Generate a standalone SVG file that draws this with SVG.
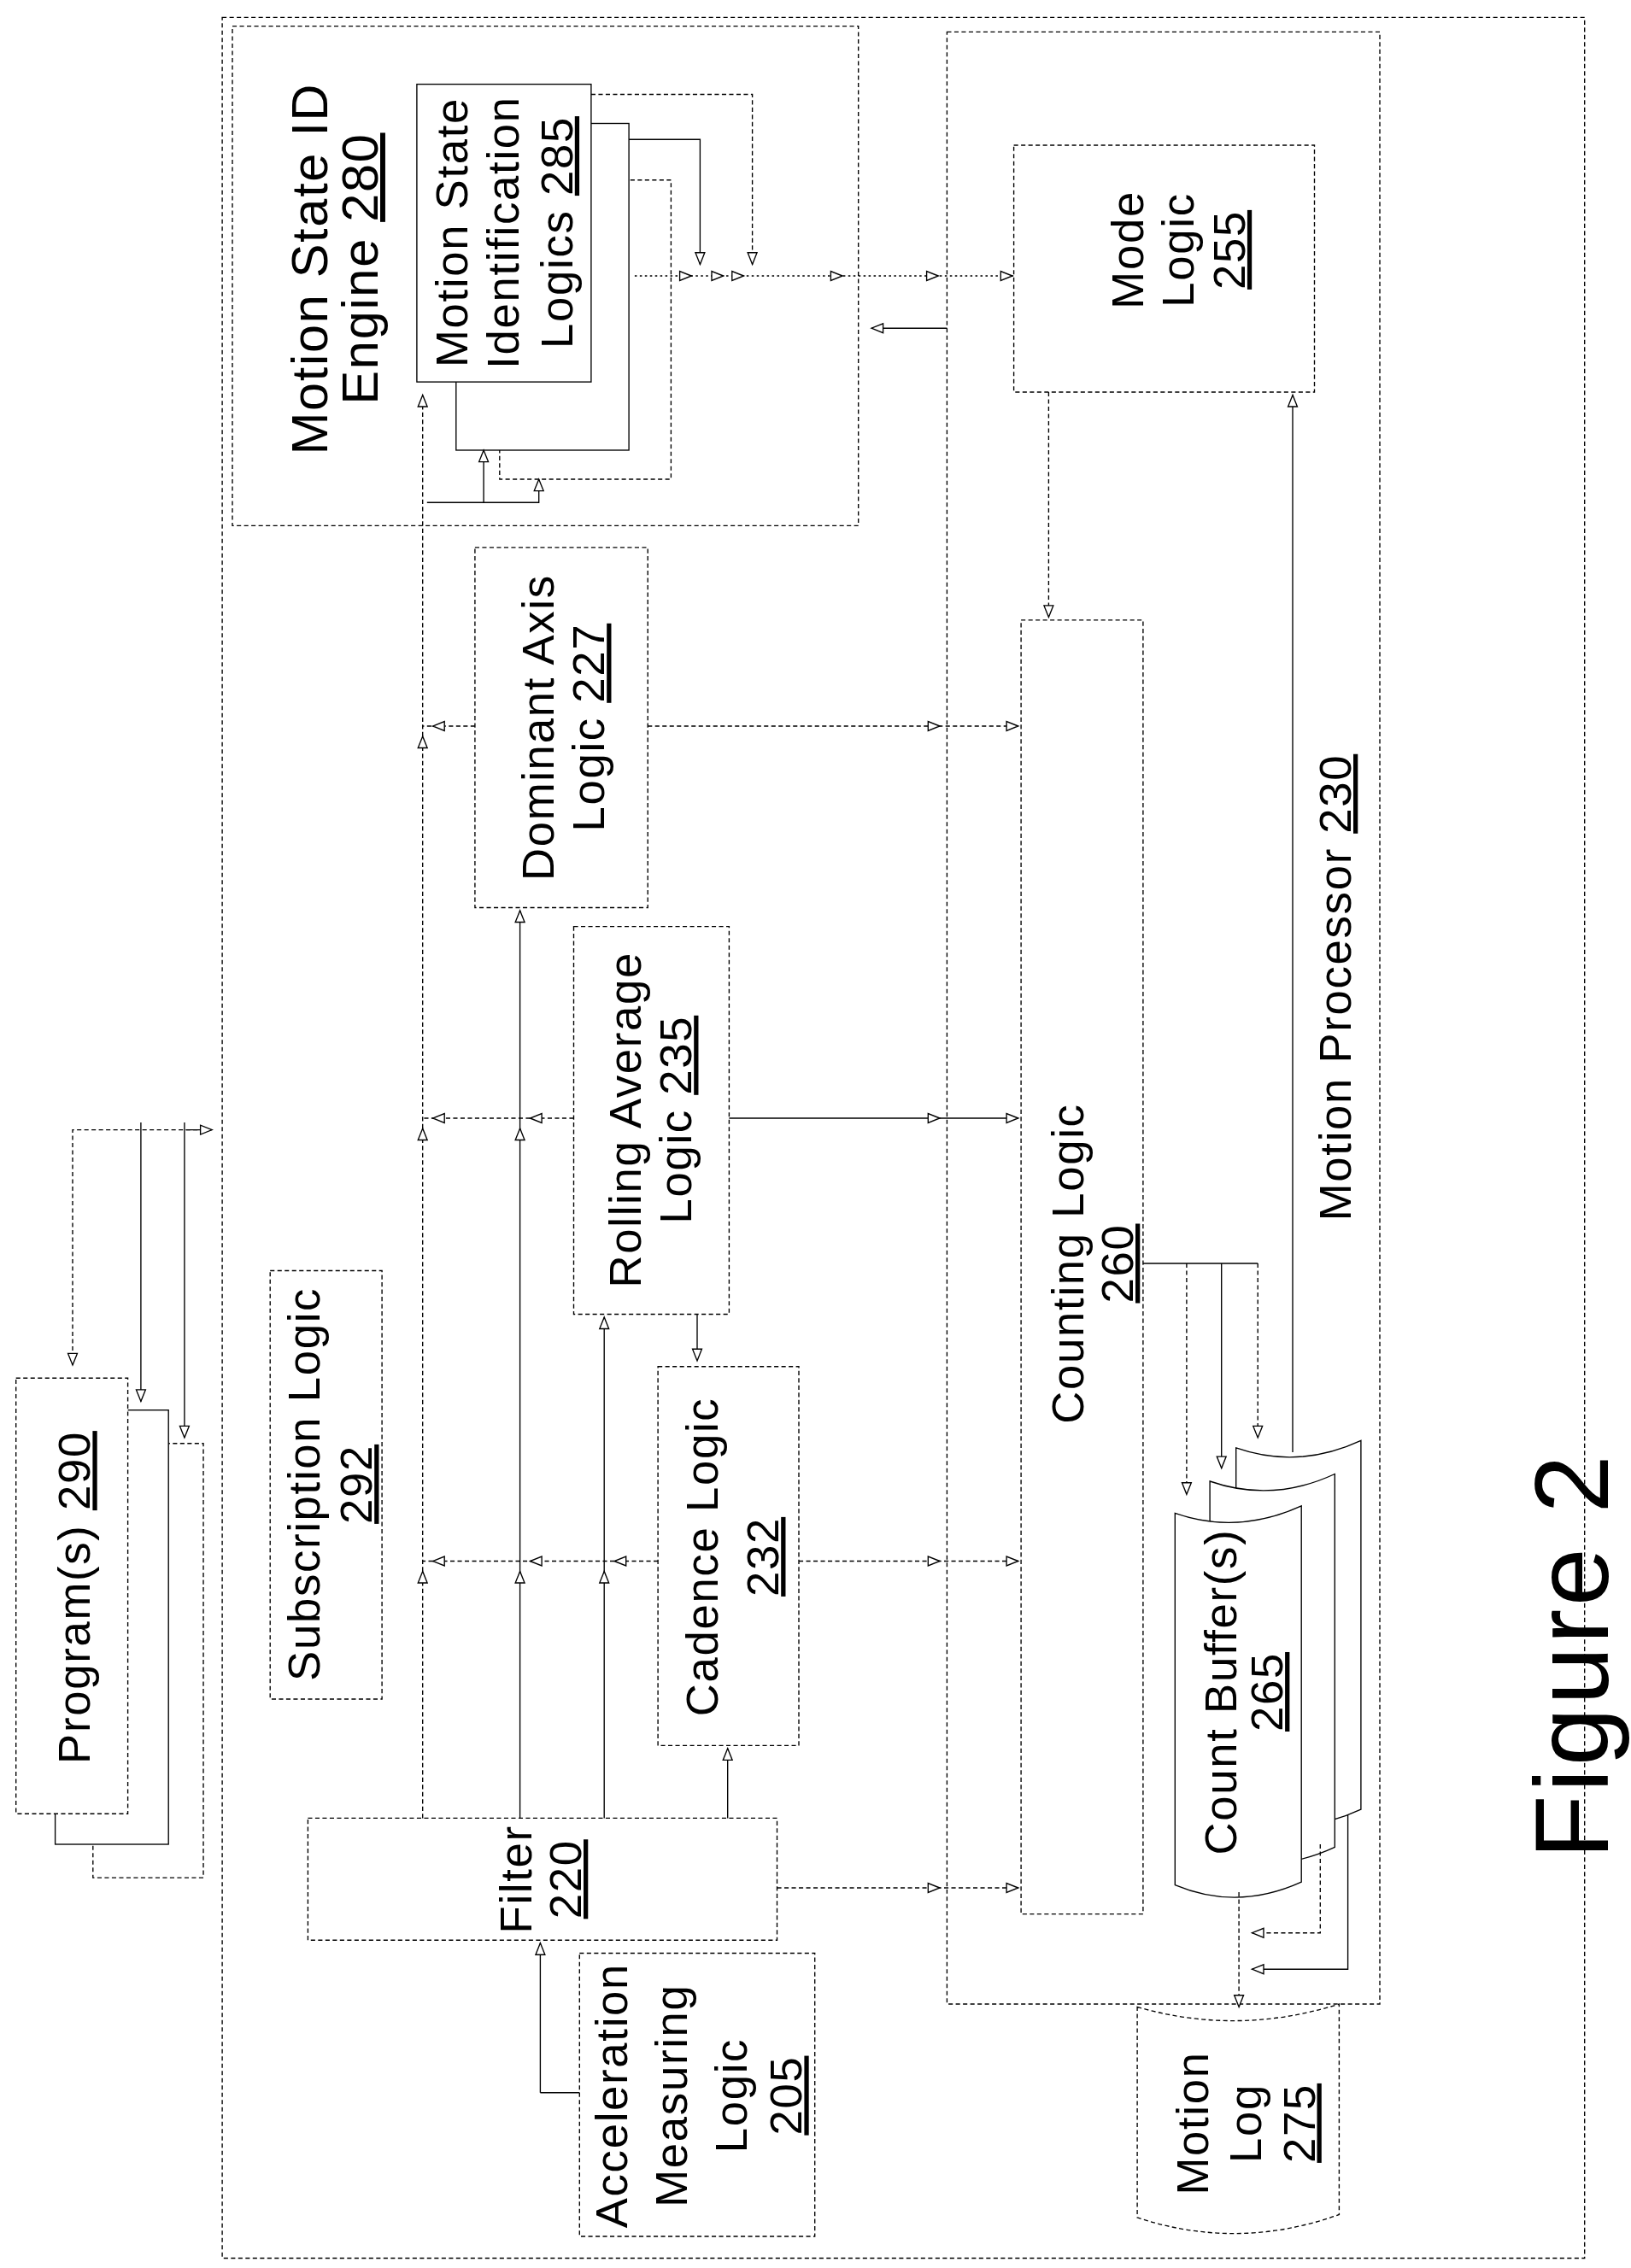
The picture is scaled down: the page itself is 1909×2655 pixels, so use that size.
<svg xmlns="http://www.w3.org/2000/svg" xmlns:xlink="http://www.w3.org/1999/xlink" width="1909" height="2655" viewBox="0 0 1909 2655">
<style>
.b{fill:#fff;stroke:#000;stroke-width:0.8}
.d{stroke-dasharray:3 2}
.l{fill:none;stroke:#000;stroke-width:0.8}
.t{font-family:"Liberation Sans",Arial,sans-serif;font-size:31px;letter-spacing:1px;fill:#000;text-anchor:middle}
.u{text-decoration:underline}
</style>
<defs>
<path id="ah" d="M0,0 L-8,-3.2 L-8,3.2 Z" fill="#fff" stroke="#000" stroke-width="0.8"/>
</defs>
<rect width="1909" height="2655" fill="#fff"/>
<g transform="scale(1.7)">
<rect id="system" class="b d" x="153" y="12" width="938" height="1543" fill="none"/>
<g id="engine280">
<rect class="b d" x="160" y="18" width="431" height="344"/>
<text class="t" transform="translate(225,185) rotate(-90)" style="font-size:35px">Motion State ID</text>
<text class="t" transform="translate(260,185) rotate(-90)" style="font-size:35px">Engine <tspan class="u">280</tspan></text>
</g>
<g id="logics285">
<rect class="b d" x="344" y="124" width="118" height="206"/>
<rect class="b" x="314" y="85" width="119" height="225"/>
<rect class="b" x="287" y="58" width="120" height="205"/>
<text class="t" transform="translate(322,160) rotate(-90)">Motion State</text>
<text class="t" transform="translate(357,160) rotate(-90)">Identification</text>
<text class="t" transform="translate(394,160) rotate(-90)">Logics <tspan class="u">285</tspan></text>
</g>
<g id="processor230">
<rect class="b d" x="652" y="22" width="298" height="1358" fill="none"/>
<text class="t" transform="translate(930,680) rotate(-90)">Motion Processor  <tspan class="u">230</tspan></text>
</g>
<g id="mode255">
<rect class="b d" x="698" y="100" width="207" height="170"/>
<text class="t" transform="translate(787,172) rotate(-90)">Mode</text>
<text class="t" transform="translate(822,172) rotate(-90)">Logic</text>
<text class="t" transform="translate(857,172) rotate(-90)"><tspan class="u">255</tspan></text>
</g>
<g id="counting260">
<rect class="b d" x="703" y="427" width="84" height="891"/>
<text class="t" transform="translate(746,870) rotate(-90)">Counting Logic</text>
<text class="t" transform="translate(780,870) rotate(-90)"><tspan class="u">260</tspan></text>
</g>
<g id="buffers265">
<path class="b" d="M851,997 Q894,1012 937,992 V1246 Q894,1266 851,1251 Z"/>
<path class="b" d="M833,1020 Q876,1035 919,1015 V1272 Q876,1292 833,1277 Z"/>
<path class="b" d="M809,1042 Q852,1057 896,1037 V1296 Q852,1316 809,1298 Z"/>
<text class="t" transform="translate(851,1165) rotate(-90)">Count Buffer(s)</text>
<text class="t" transform="translate(883,1165) rotate(-90)"><tspan class="u">265</tspan></text>
</g>
<g id="log275">
<path class="b d" d="M783,1382 Q852,1402 922,1380 V1525 Q852,1550 783,1527 Z"/>
<text class="t" transform="translate(832,1462) rotate(-90)">Motion</text>
<text class="t" transform="translate(868,1462) rotate(-90)">Log</text>
<text class="t" transform="translate(905,1462) rotate(-90)"><tspan class="u">275</tspan></text>
</g>
<g id="filter220">
<rect class="b d" x="212" y="1252" width="323" height="84"/>
<text class="t" transform="translate(366,1294) rotate(-90)">Filter</text>
<text class="t" transform="translate(400,1294) rotate(-90)"><tspan class="u">220</tspan></text>
</g>
<g id="accel205">
<rect class="b d" x="399" y="1345" width="162" height="195"/>
<text class="t" transform="translate(432,1443) rotate(-90)">Acceleration</text>
<text class="t" transform="translate(473,1443) rotate(-90)">Measuring</text>
<text class="t" transform="translate(514,1443) rotate(-90)">Logic</text>
<text class="t" transform="translate(552,1443) rotate(-90)"><tspan class="u">205</tspan></text>
</g>
<g id="cadence232">
<rect class="b d" x="453" y="941" width="97" height="261"/>
<text class="t" transform="translate(494,1072) rotate(-90)">Cadence Logic</text>
<text class="t" transform="translate(536,1072) rotate(-90)"><tspan class="u">232</tspan></text>
</g>
<g id="subscription292">
<rect class="b d" x="186" y="875" width="77" height="295"/>
<text class="t" transform="translate(220,1022) rotate(-90)">Subscription Logic</text>
<text class="t" transform="translate(256,1022) rotate(-90)"><tspan class="u">292</tspan></text>
</g>
<g id="programs290">
<rect class="b d" x="64" y="994" width="76" height="299"/>
<rect class="b" x="38" y="971" width="78" height="299"/>
<rect class="b d" x="11" y="949" width="77" height="300"/>
<text class="t" transform="translate(62,1100) rotate(-90)">Program(s) <tspan class="u">290</tspan></text>
</g>
<g id="rolling235">
<rect class="b d" x="395" y="638" width="107" height="267"/>
<text class="t" transform="translate(441,771) rotate(-90)">Rolling Average</text>
<text class="t" transform="translate(476,771) rotate(-90)">Logic <tspan class="u">235</tspan></text>
</g>
<g id="dominant227">
<rect class="b d" x="327" y="377" width="119" height="248"/>
<text class="t" transform="translate(381,501) rotate(-90)">Dominant Axis</text>
<text class="t" transform="translate(416,501) rotate(-90)">Logic <tspan class="u">227</tspan></text>
</g>
<text class="t" transform="translate(1107,1140) rotate(-90)" style="font-size:72px;letter-spacing:2px">Figure 2</text>
<g id="connectors">
<path class="l d" d="M146,778 H50 V940"/>
<path class="l" d="M97,773 V965 M127,773 V990 M128,778 H144"/>
<path class="l d" d="M291,1252 V272"/>
<path class="l" d="M358,1252 V627 M416,1252 V907"/>
<path class="l d" d="M453,1075 H291 M395,770 H291 M327,500 H291"/>
<path class="l" d="M501,1252 V1204 M480,905 V935 M372,1441 H399 M372,1441 V1338"/>
<path class="l d" d="M550,1075 H701 M535,1300 H701"/>
<path class="l" d="M502,770 H701"/>
<path class="l d" d="M446,500 H701"/>
<path class="l d" d="M722,270 V425"/>
<path class="l" d="M890,1000 V272"/>
<path class="l d" d="M407,65 H518 V182"/>
<path class="l" d="M433,96 H482 V182"/>
<path class="l" d="M437,190 H698" stroke-dasharray="1.5 2"/>
<path class="l" d="M652,226 H600"/>
<path class="l" d="M294,346 H371 V330 M333,346 V310"/>
<path class="l" d="M787,870 H817 M787,870 H866"/>
<path class="l d" d="M817,870 V1029 M866,870 V990"/>
<path class="l" d="M841,870 V1011"/>
<path class="l d" d="M853,1303 V1382"/>
<path class="l d" d="M909,1270 V1331 H862"/>
<path class="l" d="M928,1250 V1356 H862"/>
<use xlink:href="#ah" transform="translate(50,940) rotate(90)"/>
<use xlink:href="#ah" transform="translate(97,965) rotate(90)"/>
<use xlink:href="#ah" transform="translate(127,990) rotate(90)"/>
<use xlink:href="#ah" transform="translate(146,778)"/>
<use xlink:href="#ah" transform="translate(291,272) rotate(-90)"/>
<use xlink:href="#ah" transform="translate(333,310) rotate(-90)"/>
<use xlink:href="#ah" transform="translate(371,330) rotate(-90)"/>
<use xlink:href="#ah" transform="translate(291,1082) rotate(-90)"/>
<use xlink:href="#ah" transform="translate(358,1082) rotate(-90)"/>
<use xlink:href="#ah" transform="translate(416,1082) rotate(-90)"/>
<use xlink:href="#ah" transform="translate(298,1075) rotate(180)"/>
<use xlink:href="#ah" transform="translate(365,1075) rotate(180)"/>
<use xlink:href="#ah" transform="translate(423,1075) rotate(180)"/>
<use xlink:href="#ah" transform="translate(291,777) rotate(-90)"/>
<use xlink:href="#ah" transform="translate(358,777) rotate(-90)"/>
<use xlink:href="#ah" transform="translate(298,770) rotate(180)"/>
<use xlink:href="#ah" transform="translate(365,770) rotate(180)"/>
<use xlink:href="#ah" transform="translate(291,507) rotate(-90)"/>
<use xlink:href="#ah" transform="translate(298,500) rotate(180)"/>
<use xlink:href="#ah" transform="translate(501,1204) rotate(-90)"/>
<use xlink:href="#ah" transform="translate(480,937) rotate(90)"/>
<use xlink:href="#ah" transform="translate(416,907) rotate(-90)"/>
<use xlink:href="#ah" transform="translate(358,627) rotate(-90)"/>
<use xlink:href="#ah" transform="translate(372,1338) rotate(-90)"/>
<use xlink:href="#ah" transform="translate(647,1300)"/>
<use xlink:href="#ah" transform="translate(701,1300)"/>
<use xlink:href="#ah" transform="translate(647,1075)"/>
<use xlink:href="#ah" transform="translate(701,1075)"/>
<use xlink:href="#ah" transform="translate(647,770)"/>
<use xlink:href="#ah" transform="translate(701,770)"/>
<use xlink:href="#ah" transform="translate(647,500)"/>
<use xlink:href="#ah" transform="translate(701,500)"/>
<use xlink:href="#ah" transform="translate(722,425) rotate(90)"/>
<use xlink:href="#ah" transform="translate(890,272) rotate(-90)"/>
<use xlink:href="#ah" transform="translate(518,182) rotate(90)"/>
<use xlink:href="#ah" transform="translate(482,182) rotate(90)"/>
<use xlink:href="#ah" transform="translate(476,190)"/>
<use xlink:href="#ah" transform="translate(498,190)"/>
<use xlink:href="#ah" transform="translate(512,190)"/>
<use xlink:href="#ah" transform="translate(580,190)"/>
<use xlink:href="#ah" transform="translate(646,190)"/>
<use xlink:href="#ah" transform="translate(697,190)"/>
<use xlink:href="#ah" transform="translate(600,226) rotate(180)"/>
<use xlink:href="#ah" transform="translate(817,1029) rotate(90)"/>
<use xlink:href="#ah" transform="translate(841,1011) rotate(90)"/>
<use xlink:href="#ah" transform="translate(866,990) rotate(90)"/>
<use xlink:href="#ah" transform="translate(853,1382) rotate(90)"/>
<use xlink:href="#ah" transform="translate(862,1331) rotate(180)"/>
<use xlink:href="#ah" transform="translate(862,1356) rotate(180)"/>
</g>
</g>
</svg>
